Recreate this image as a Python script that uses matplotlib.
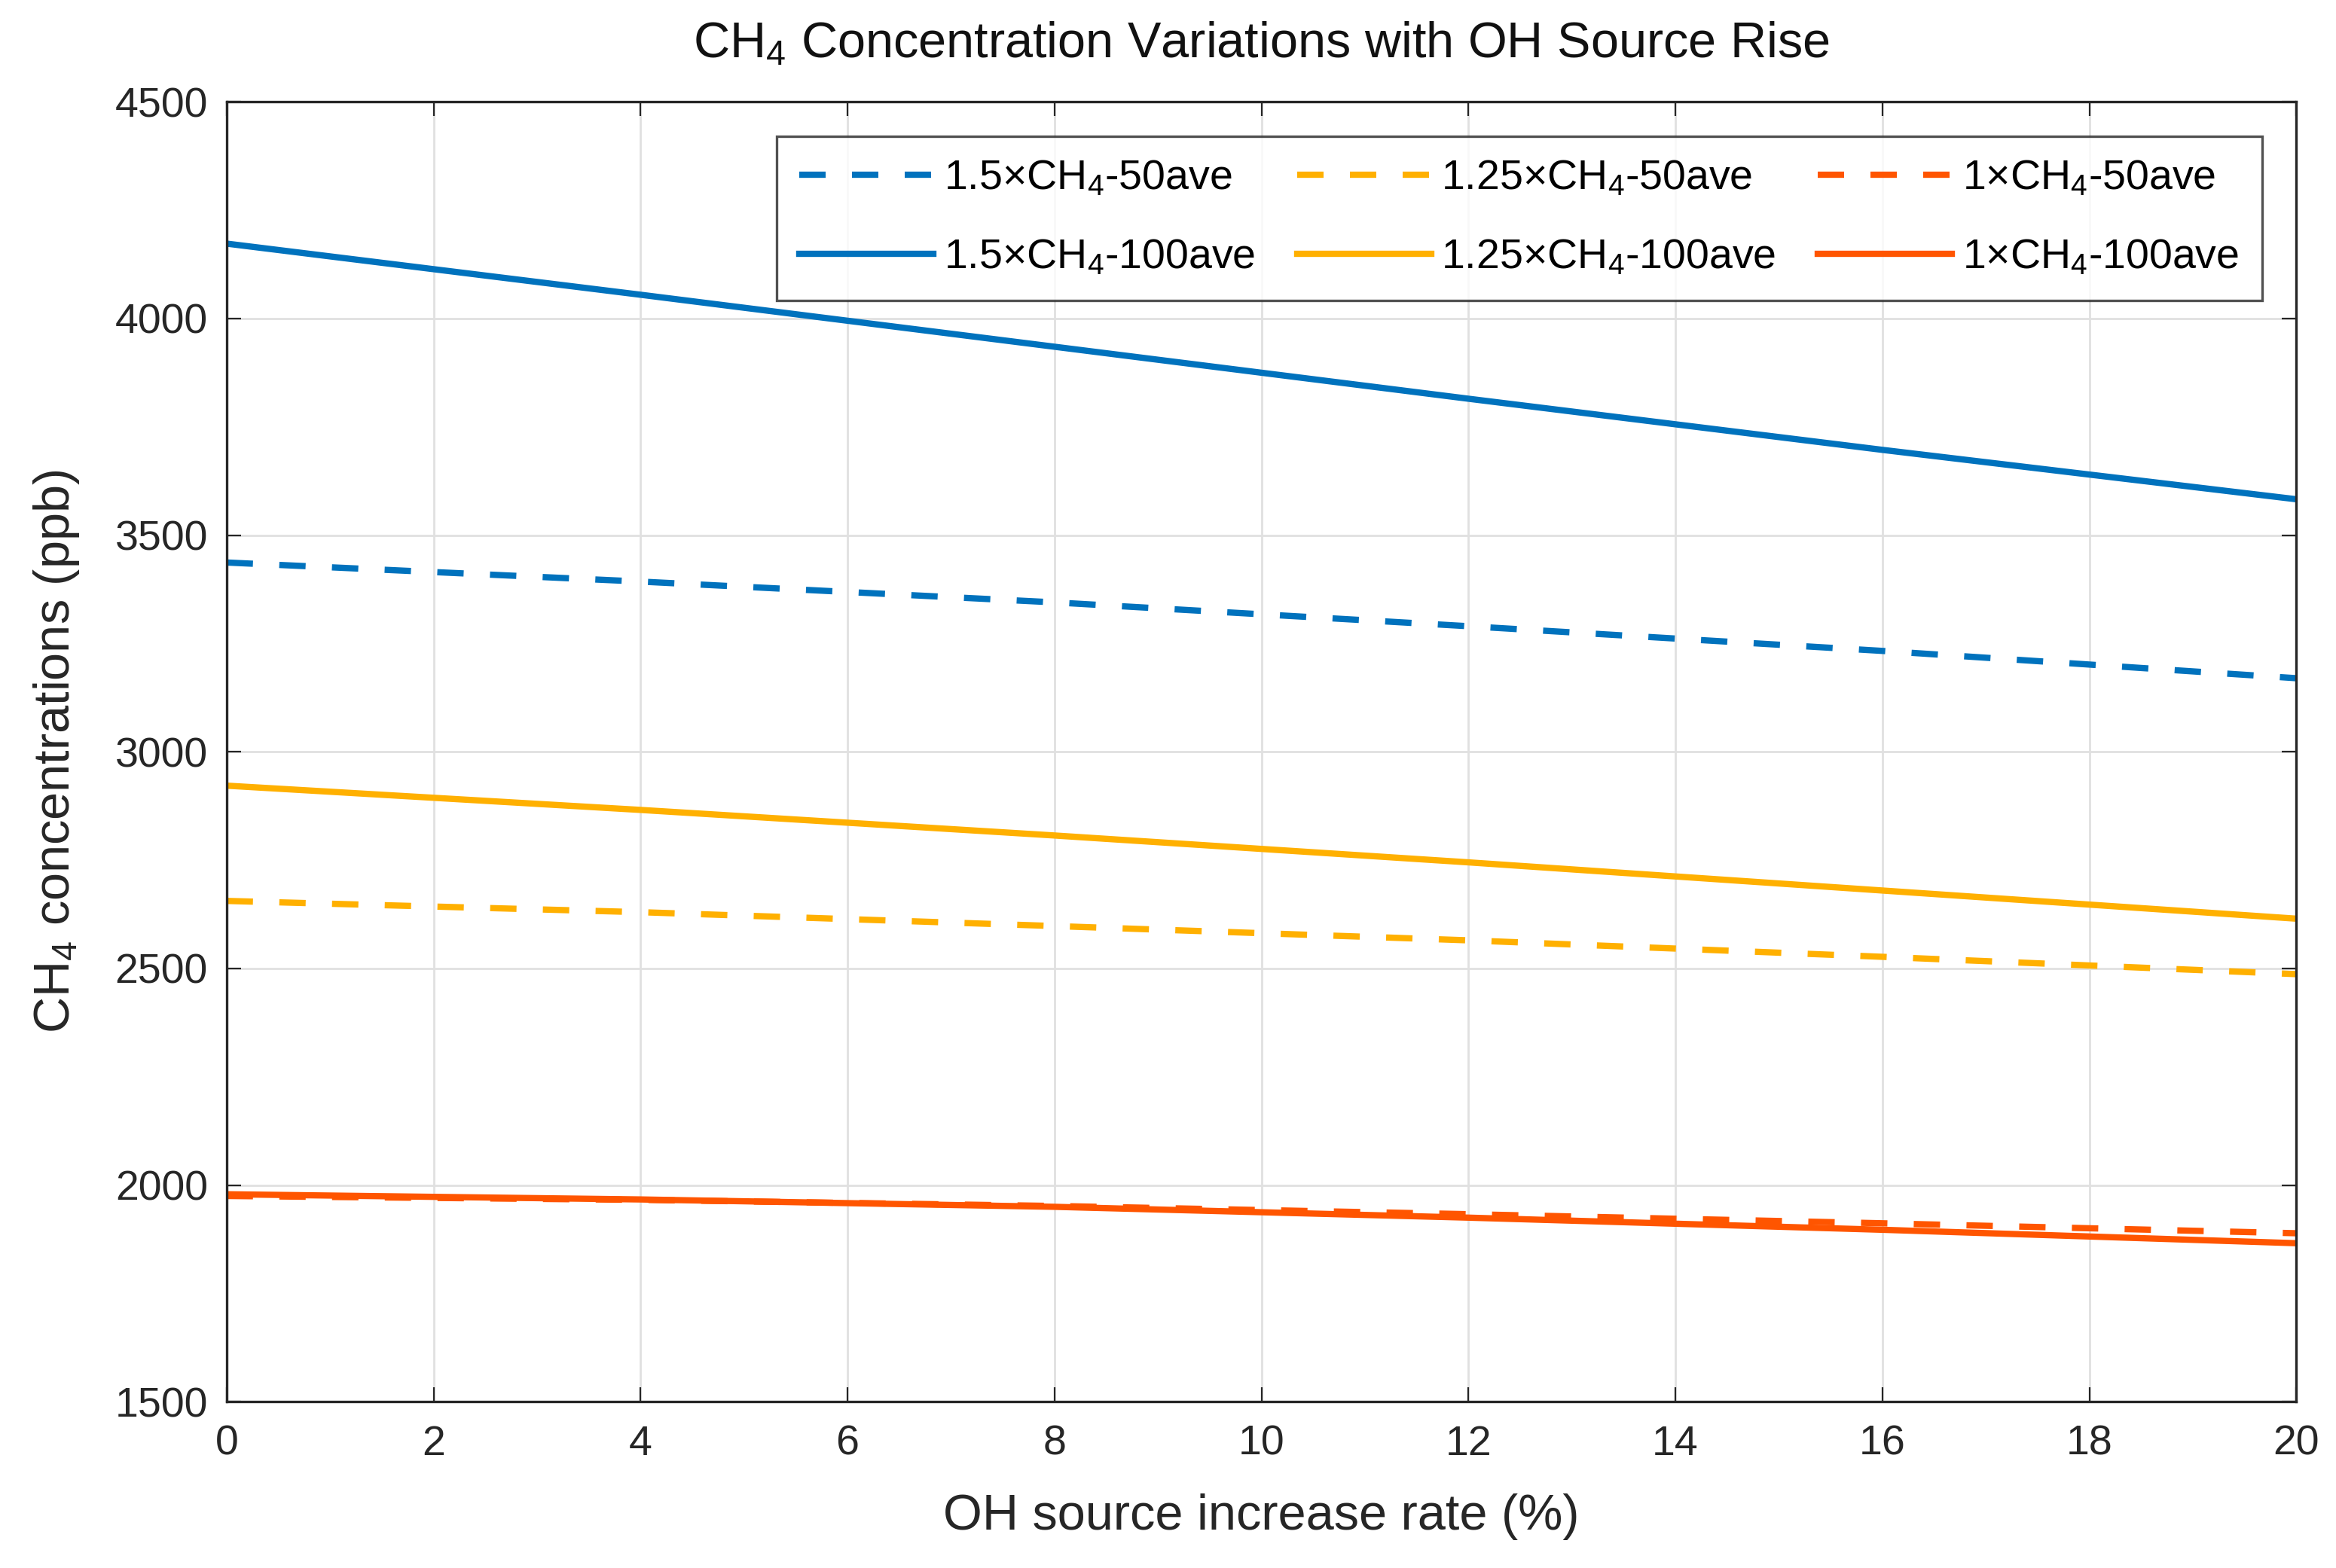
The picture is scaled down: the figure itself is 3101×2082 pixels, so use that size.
import matplotlib
matplotlib.use("Agg")
import matplotlib.pyplot as plt

plt.rcParams['font.family'] = ['Liberation Sans', 'DejaVu Sans']
plt.rcParams['mathtext.fontset'] = 'custom'
plt.rcParams['mathtext.rm'] = 'Liberation Sans'
plt.rcParams['mathtext.it'] = 'Liberation Sans'

# OH source increase rate (%)
rate = [0, 4, 8, 12, 16, 20]

# CH4 concentrations (ppb)
ch4_15_50 = [3437, 3393, 3345, 3290, 3233, 3170]
ch4_15_100 = [4173, 4055, 3935, 3815, 3697, 3583]
ch4_125_50 = [2656, 2630, 2598, 2565, 2527, 2487]
ch4_125_100 = [2922, 2866, 2807, 2745, 2680, 2615]
ch4_1_50 = [1975, 1966, 1952, 1933, 1912, 1889]
ch4_1_100 = [1979, 1967, 1950, 1925, 1897, 1866]

blue, yellow, red = '#0072BD', '#FFB000', '#FF5500'
lw = 3.0; dsh = (4.2, 4.2)

fig, ax = plt.subplots(figsize=(15.505, 10.41), dpi=200)
fig.subplots_adjust(left=0.097, right=0.983, top=0.935, bottom=0.106)

ax.plot(rate, ch4_15_50, '--', color=blue, lw=lw, dashes=dsh, label=r'1.5×CH$_4$-50ave')
ax.plot(rate, ch4_15_100, '-', color=blue, lw=lw, label=r'1.5×CH$_4$-100ave')
ax.plot(rate, ch4_125_50, '--', color=yellow, lw=lw, dashes=dsh, label=r'1.25×CH$_4$-50ave')
ax.plot(rate, ch4_125_100, '-', color=yellow, lw=lw, label=r'1.25×CH$_4$-100ave')
ax.plot(rate, ch4_1_50, '--', color=red, lw=lw, dashes=dsh, label=r'1×CH$_4$-50ave')
ax.plot(rate, ch4_1_100, '-', color=red, lw=lw, label=r'1×CH$_4$-100ave')

ax.set_xlim(0, 20); ax.set_ylim(1500, 4500)
ax.set_xticks(range(0, 21, 2)); ax.set_yticks(range(1500, 4501, 500))
ax.grid(True, color='#e0e0e0', lw=1)
ax.tick_params(direction='in', top=True, right=True, labelsize=20, length=7, color='#262626', labelcolor='#262626')
ax.tick_params(axis='x', pad=11)
ax.tick_params(axis='y', pad=9)
for s in ax.spines.values():
    s.set_color('#262626'); s.set_linewidth(1.2)

ax.set_xlabel('OH source increase rate (%)', fontsize=24, color='#262626', labelpad=14)
ax.set_ylabel(r'CH$_4$ concentrations (ppb)', fontsize=24, color='#262626', labelpad=16)
ax.set_title(r'CH$_4$ Concentration Variations with OH Source Rise', fontsize=24, color='#111111', pad=21)

leg = ax.legend(ncol=3, loc='upper right', bbox_to_anchor=(0.9834, 0.9736), borderaxespad=0, fontsize=20,
                frameon=True, fancybox=False, edgecolor='#262626', handlelength=3.2, columnspacing=1.0,
                handletextpad=0.25, borderpad=0.55, labelspacing=0.95)
leg.get_frame().set_linewidth(1.2)

fig.savefig('out.png', dpi=200)
